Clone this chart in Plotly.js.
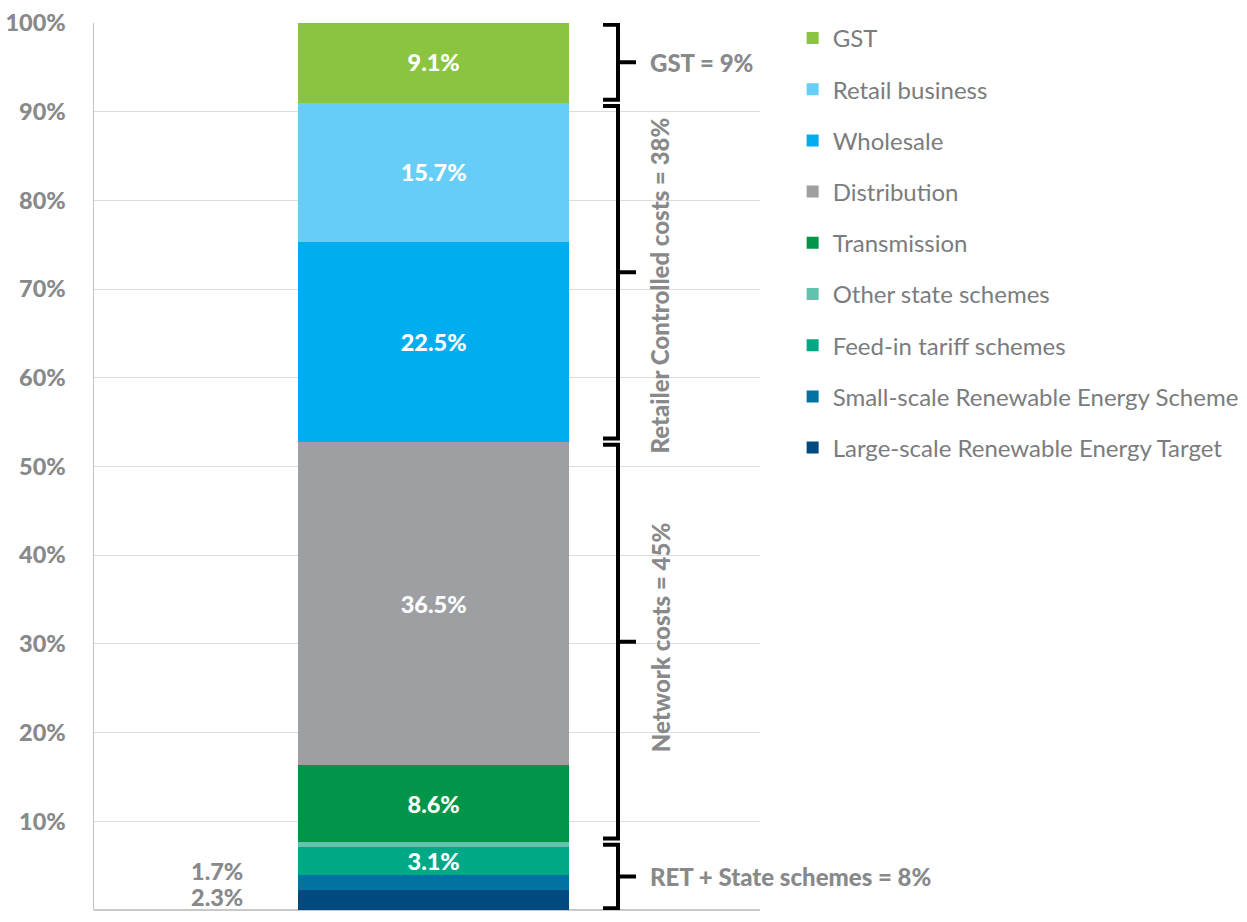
<!DOCTYPE html>
<html>
<head>
<meta charset="utf-8">
<script src="https://cdn.plot.ly/plotly-3.0.1.min.js"></script>
<style>html,body{margin:0;padding:0;background:#fff}#chart{width:1247px;height:922px}</style>
</head>
<body>
<div id="chart"></div>
<script>
// Components, bottom to top of the stack
const components = ["Large-scale Renewable Energy Target", "Small-scale Renewable Energy Scheme", "Feed-in tariff schemes", "Other state schemes", "Transmission", "Distribution", "Wholesale", "Retail business", "GST"];
const shares = [2.3, 1.7, 3.1, 0.6, 8.6, 36.5, 22.5, 15.7, 9.1];
const insideLabels = ["", "", "3.1%", "", "8.6%", "36.5%", "22.5%", "15.7%", "9.1%"];
const colors = ["#004a80", "#0073a0", "#00a886", "#61c3ad", "#009548", "#9d9fa2", "#00adef", "#66cdf6", "#8bc540"];
const yTicks = [0, 10, 20, 30, 40, 50, 60, 70, 80, 90, 100];
const yTickText = ["0%", "10%", "20%", "30%", "40%", "50%", "60%", "70%", "80%", "90%", "100%"];
// Bracket groups: [first component index, last component index, label, vertical?]
const groups = [
  [0, 3, "RET + State schemes = 8%", false],
  [4, 5, "Network costs = 45%", true],
  [6, 7, "Retailer Controlled costs = 38%", true],
  [8, 8, "GST = 9%", false]
];
const outsideLabels = ["2.3%", "1.7%"];

const GRAY = "#88898b";
const FONT = "Lato, 'Open Sans', sans-serif";

const traces = components.map((name, i) => ({
  type: "bar",
  name: name,
  x: [0],
  y: [shares[i]],
  width: 0.407,
  marker: {color: colors[i], line: {width: 0}},
  text: [insideLabels[i]],
  textposition: "inside",
  insidetextanchor: "middle",
  constraintext: "none",
  textfont: {family: FONT, size: 23.5, color: "#ffffff", weight: 900},
  hoverinfo: "name+y",
  legendgroup: "g" + i,
  legendrank: components.length - i
}));

// cumulative bounds
const cum = [0];
shares.forEach(v => cum.push(cum[cum.length - 1] + v));

const xV = 0.7868, xL = 0.7643, xR = 0.8138;
const shapes = [];
const annotations = [];
groups.forEach(([a, b, label, vertical], gi) => {
  const bot = cum[a] + (a === 0 ? 0.2 : 0.35);
  const top = cum[b + 1] - (b === components.length - 1 ? 0.3 : 0.35);
  const mid = (bot + top) / 2;
  shapes.push({
    type: "path", xref: "paper", yref: "y",
    path: `M ${xL},${top} L ${xV},${top} L ${xV},${bot} L ${xL},${bot} M ${xV},${mid} L ${xR},${mid}`,
    line: {color: "#000000", width: 4}
  });
  if (vertical) {
    annotations.push({
      xref: "paper", yref: "y", x: 0.8498, y: mid + (gi === 2 ? -1.5 : 0.5),
      text: label, textangle: -90, showarrow: false,
      xanchor: "center", yanchor: "middle",
      font: {family: FONT, size: 24, color: GRAY, weight: 900}
    });
  } else {
    annotations.push({
      xref: "paper", yref: "y", x: 0.8318, y: mid,
      text: label, showarrow: false, xanchor: "left", yanchor: "middle",
      font: {family: FONT, size: 24, color: GRAY, weight: 900}
    });
  }
});

// labels for the thin bottom segments, placed to the left of the bar
annotations.push({
  xref: "x", yref: "y", x: -0.325, y: cum[0] + shares[0] / 2 + 0.3,
  text: outsideLabels[0], showarrow: false, xanchor: "center", yanchor: "middle",
  font: {family: FONT, size: 23.5, color: GRAY, weight: 900}
});
annotations.push({
  xref: "x", yref: "y", x: -0.325, y: cum[1] + shares[1] / 2 + 1.25,
  text: outsideLabels[1], showarrow: false, xanchor: "center", yanchor: "middle",
  font: {family: FONT, size: 23.5, color: GRAY, weight: 900}
});

const layout = {
  width: 1247, height: 922,
  margin: {l: 94, r: 487, t: 23, b: 12, pad: 0, autoexpand: false},
  paper_bgcolor: "#ffffff", plot_bgcolor: "#ffffff",
  barmode: "stack",
  bargap: 0,
  showlegend: true,
  legend: {
    x: 1.049, y: 1.008, xanchor: "left", yanchor: "top",
    traceorder: "grouped",
    tracegroupgap: 17,
    font: {family: FONT, size: 24, color: "#7b7c7e"},
    bgcolor: "rgba(0,0,0,0)",
    itemclick: false, itemdoubleclick: false
  },
  xaxis: {
    range: [-0.51, 0.49], showgrid: false, zeroline: false,
    showticklabels: false, showline: false, ticks: "", fixedrange: true
  },
  yaxis: {
    range: [0, 100], tickmode: "array", tickvals: yTicks, ticktext: yTickText,
    showgrid: true, gridcolor: "#dcdcdc", gridwidth: 1,
    zeroline: true, zerolinecolor: "#c8c8c8", zerolinewidth: 1.5,
    showline: true, linecolor: "#c0c0c0", linewidth: 1.5,
    ticks: "", ticklabelstandoff: 22,
    tickfont: {family: FONT, size: 23.5, color: GRAY, weight: 900},
    fixedrange: true
  },
  shapes: shapes,
  annotations: annotations,
  font: {family: FONT}
};

Plotly.newPlot("chart", traces, layout, {displayModeBar: false, staticPlot: true});
</script>
</body>
</html>
